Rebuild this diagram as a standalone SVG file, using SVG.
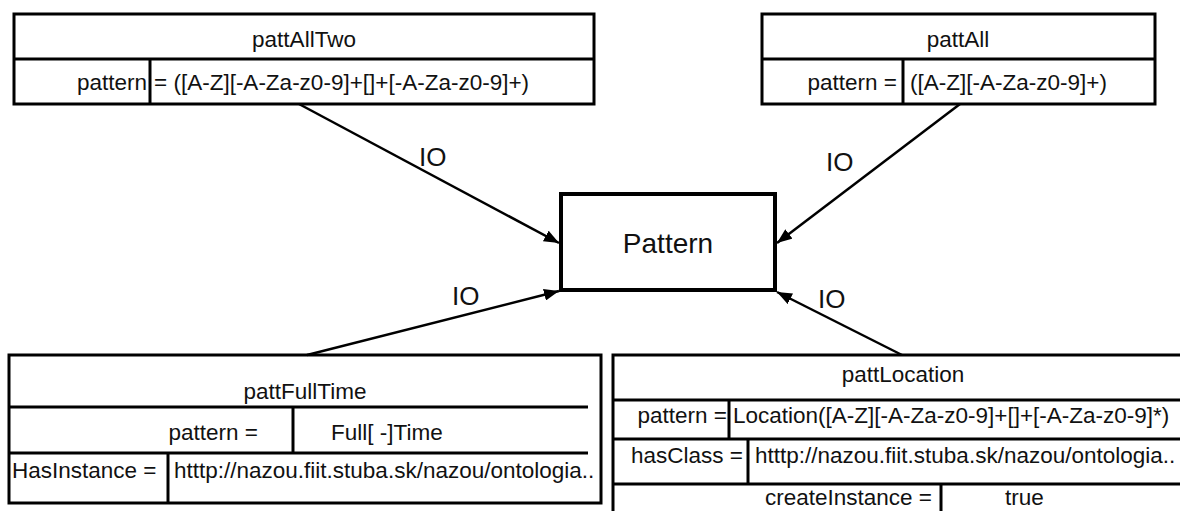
<svg xmlns="http://www.w3.org/2000/svg" width="1180" height="511" viewBox="0 0 1180 511">
  <style>
    text { font-family: "Liberation Sans", Arial, sans-serif; fill: #111; }
    .t { font-size: 22.5px; }
    .mid { text-anchor: middle; }
    .end { text-anchor: end; }
    .big { font-size: 28px; }
    .io { font-size: 26px; }
    .box { fill: #fff; stroke: #000; stroke-width: 3; }
    .ln { fill: none; stroke: #000; stroke-width: 3; }
    .conn { fill: none; stroke: #000; stroke-width: 2.5; marker-end: url(#arrow); }
  </style>
  <defs>
    <marker id="arrow" markerUnits="userSpaceOnUse" markerWidth="16" markerHeight="12" refX="15" refY="6" orient="auto">
      <path d="M0,0 L15,6 L0,12 z" fill="#000"/>
    </marker>
  </defs>
  <rect width="1180" height="511" fill="#fff"/>

  <!-- pattAllTwo -->
  <g id="pattAllTwo">
    <rect class="box" x="14" y="14" width="580" height="90"/>
    <line class="ln" x1="14" y1="59" x2="594" y2="59"/>
    <line class="ln" x1="150" y1="59" x2="150" y2="104"/>
    <text class="t mid" x="304" y="47">pattAllTwo</text>
    <text class="t end" x="147" y="90">pattern</text>
    <text class="t" x="154" y="90">= ([A-Z][-A-Za-z0-9]+[]+[-A-Za-z0-9]+)</text>
  </g>

  <!-- pattAll -->
  <g id="pattAll">
    <rect class="box" x="762" y="14" width="393" height="90"/>
    <line class="ln" x1="762" y1="59" x2="1155" y2="59"/>
    <line class="ln" x1="903" y1="59" x2="903" y2="104"/>
    <text class="t mid" x="958" y="47">pattAll</text>
    <text class="t end" x="897" y="90">pattern =</text>
    <text class="t" x="910" y="90">([A-Z][-A-Za-z0-9]+)</text>
  </g>

  <!-- Pattern -->
  <g id="Pattern">
    <rect x="561" y="194" width="214" height="96" fill="#fff" stroke="#000" stroke-width="4"/>
    <text class="big mid" x="668" y="253">Pattern</text>
  </g>

  <!-- pattFullTime -->
  <g id="pattFullTime">
    <rect class="box" x="9" y="355" width="592" height="148"/>
    <line class="ln" x1="9" y1="407" x2="588" y2="407"/>
    <line class="ln" x1="293" y1="407" x2="293" y2="453"/>
    <line class="ln" x1="9" y1="453" x2="588" y2="453"/>
    <line class="ln" x1="168" y1="453" x2="168" y2="503"/>
    <text class="t mid" x="305" y="399">pattFullTime</text>
    <text class="t end" x="258" y="440">pattern =</text>
    <text class="t" x="331" y="440">Full[ -]Time</text>
    <text class="t" x="12" y="478">HasInstance =</text>
    <text class="t" x="174" y="478">htttp://nazou.fiit.stuba.sk/nazou/ontologia..</text>
  </g>

  <!-- pattLocation -->
  <g id="pattLocation">
    <rect class="box" x="613" y="355" width="580" height="170"/>
    <line class="ln" x1="613" y1="400" x2="1193" y2="400"/>
    <line class="ln" x1="729" y1="400" x2="729" y2="439"/>
    <line class="ln" x1="613" y1="439" x2="1193" y2="439"/>
    <line class="ln" x1="748" y1="439" x2="748" y2="484"/>
    <line class="ln" x1="613" y1="484" x2="1193" y2="484"/>
    <line class="ln" x1="941" y1="484" x2="941" y2="525"/>
    <text class="t mid" x="903" y="382">pattLocation</text>
    <text class="t end" x="727" y="423">pattern =</text>
    <text class="t" x="733" y="423">Location([A-Z][-A-Za-z0-9]+[]+[-A-Za-z0-9]*)</text>
    <text class="t end" x="743" y="463">hasClass =</text>
    <text class="t" x="755" y="463">htttp://nazou.fiit.stuba.sk/nazou/ontologia..</text>
    <text class="t end" x="932" y="505">createInstance =</text>
    <text class="t" x="1005" y="505">true</text>
  </g>

  <!-- IO connectors into Pattern -->
  <g id="connectors">
    <line class="conn" x1="299" y1="104" x2="559" y2="243"/>
    <line class="conn" x1="960" y1="104" x2="777" y2="243"/>
    <line class="conn" x1="307" y1="355" x2="559" y2="291"/>
    <line class="conn" x1="902" y1="355" x2="777" y2="292"/>
    <text class="io" x="419" y="166">IO</text>
    <text class="io" x="826" y="171">IO</text>
    <text class="io" x="452" y="305">IO</text>
    <text class="io" x="818" y="308">IO</text>
  </g>
</svg>
